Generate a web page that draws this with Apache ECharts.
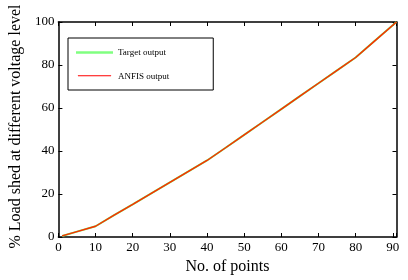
<!DOCTYPE html>
<html>
<head>
<meta charset="utf-8">
<script src="https://cdn.jsdelivr.net/npm/echarts@6/dist/echarts.min.js"></script>
<style>html,body{margin:0;padding:0;background:#fff}#c{width:408px;height:280px}</style>
</head>
<body>
<div id="c"></div>
<script>
var xPoints = [1, 5, 10, 15, 20, 25, 30, 35, 40, 45, 50, 55, 60, 65, 70, 75, 80, 85, 91];
var targetOutput = [0.5, 2.5, 5, 10.2, 15.2, 20.3, 25.4, 30.5, 35.6, 41.5, 47.5, 53.5, 59.5, 65.5, 71.5, 77.5, 83.5, 91, 100];
var anfisOutput = [0.5, 2.5, 5, 10.2, 15.2, 20.3, 25.4, 30.5, 35.6, 41.5, 47.5, 53.5, 59.5, 65.5, 71.5, 77.5, 83.5, 91, 100];
var xTicks = [0, 10, 20, 30, 40, 50, 60, 70, 80, 90];
var yTicks = [0, 20, 40, 60, 80, 100];
var seriesNames = ['Target output', 'ANFIS output'];

function pairs(ys) { return xPoints.map(function (x, i) { return [x, ys[i]]; }); }
var serif = '"Liberation Serif", "DejaVu Serif", serif';
var axisLineStyle = { color: '#000', width: 1.5 };

var chart = echarts.init(document.getElementById('c'), null, { renderer: 'canvas' });
chart.setOption({
  animation: false,
  backgroundColor: '#fff',
  grid: { left: 49, top: 22, right: 11.5, bottom: 36 },
  legend: {
    show: true,
    data: [
      { name: seriesNames[0], icon: 'rect', itemStyle: { color: '#80ff80' } },
      { name: seriesNames[1], icon: 'path://M0,0 L40,0 L40,1.2 L0,1.2 M0,3 L40,3 L40,3.01 L0,3.01 Z', itemStyle: { color: '#ff0000' } }
    ],
    orient: 'vertical',
    left: 68, top: 38,
    itemWidth: 37, itemHeight: 2.5, itemGap: 15,
    padding: [10, 44, 9, 8],
    borderColor: '#000', borderWidth: 1,
    backgroundColor: '#fff',
    textStyle: { fontFamily: serif, fontSize: 9, color: '#000' }
  },
  xAxis: [{
    type: 'value', min: 0, max: 91, interval: 10,
    name: 'No. of points', nameLocation: 'middle', nameGap: 22,
    nameTextStyle: { fontFamily: serif, fontSize: 16, color: '#000' },
    axisLine: { show: true, onZero: false, lineStyle: axisLineStyle },
    axisTick: { inside: true, length: 4, lineStyle: { color: '#000' } },
    axisLabel: { fontFamily: serif, fontSize: 13, color: '#000', margin: 4,
      formatter: function (v) { return xTicks.indexOf(v) >= 0 ? String(v) : ''; } },
    splitLine: { show: false }
  }, {
    type: 'value', min: 0, max: 91, interval: 10, position: 'top',
    axisLine: { show: true, onZero: false, lineStyle: axisLineStyle },
    axisTick: { inside: true, length: 4, lineStyle: { color: '#000' } },
    axisLabel: { show: false }, splitLine: { show: false }
  }],
  yAxis: [{
    type: 'value', min: 0, max: 100, interval: 20,
    name: '% Load shed at different voltage level', nameLocation: 'middle', nameGap: 31,
    nameTextStyle: { fontFamily: serif, fontSize: 16, color: '#000', padding: [0, 0, 0, 6] },
    axisLine: { show: true, onZero: false, lineStyle: axisLineStyle },
    axisTick: { inside: true, length: 4, lineStyle: { color: '#000' } },
    axisLabel: { fontFamily: serif, fontSize: 13, color: '#000', margin: 4,
      formatter: function (v) { return yTicks.indexOf(v) >= 0 ? String(v) : ''; } },
    splitLine: { show: false }
  }, {
    type: 'value', min: 0, max: 100, interval: 20, position: 'right',
    axisLine: { show: true, onZero: false, lineStyle: axisLineStyle },
    axisTick: { inside: true, length: 4, lineStyle: { color: '#000' } },
    axisLabel: { show: false }, splitLine: { show: false }
  }],
  series: [{
    name: seriesNames[0], type: 'line', data: pairs(targetOutput),
    showSymbol: false, symbol: 'none',
    lineStyle: { color: '#70f060', width: 2 }, itemStyle: { color: '#80ff80' }
  }, {
    name: seriesNames[1], type: 'line', data: pairs(anfisOutput),
    showSymbol: false, symbol: 'none',
    lineStyle: { color: '#ff2a00', width: 1.4 }, itemStyle: { color: '#ff0000' }
  }]
});
</script>
</body>
</html>
